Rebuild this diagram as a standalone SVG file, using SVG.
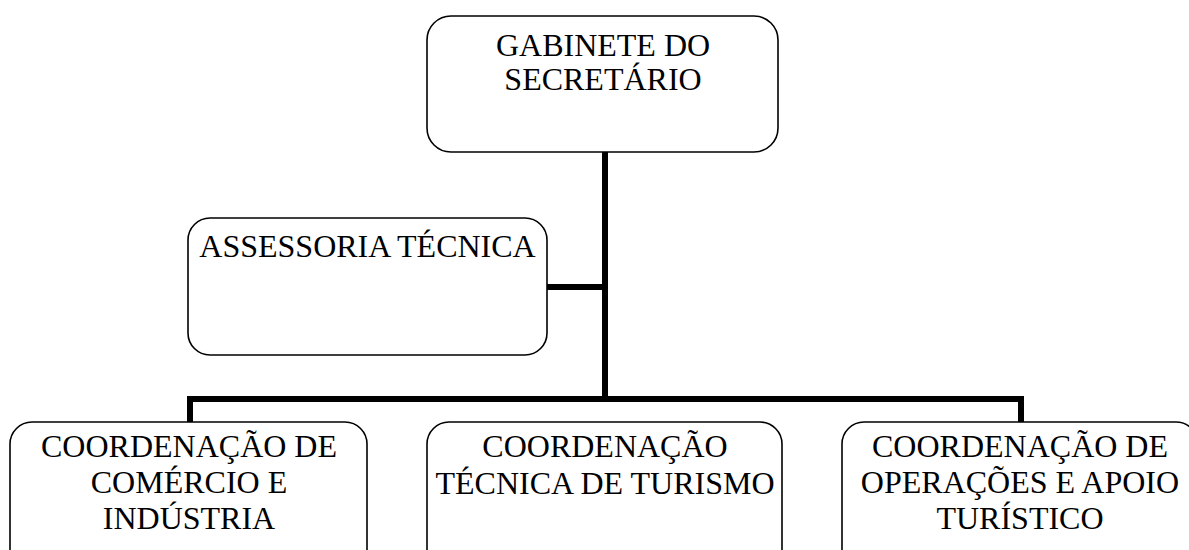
<svg xmlns="http://www.w3.org/2000/svg" width="1189" height="550" viewBox="0 0 1189 550">
<style>
.box{fill:#fff;stroke:#000;stroke-width:1.6}
.t{font-family:"Liberation Serif","Times New Roman",serif;font-size:32px;fill:#000;text-anchor:middle}
.c{stroke:#000;stroke-width:6;fill:none;stroke-linecap:butt}
</style>
<rect width="1189" height="550" fill="#fff"/>
<g id="connectors">
<path class="c" d="M605 152 V399"/>
<path class="c" d="M547 287 H605"/>
<path class="c" d="M187 399 H1024"/>
<path class="c" d="M190 399 V422"/>
<path class="c" d="M1021 399 V422"/>
</g>
<g id="gabinete">
<rect class="box" x="427" y="16" width="351" height="136" rx="24"/>
<text class="t" x="603" y="56">GABINETE DO</text>
<text class="t" x="603" y="90">SECRETÁRIO</text>
</g>
<g id="assessoria">
<rect class="box" x="188" y="218" width="359" height="137" rx="22"/>
<text class="t" x="367.5" y="257">ASSESSORIA TÉCNICA</text>
</g>
<g id="coord-comercio">
<rect class="box" x="10" y="422" width="357" height="150" rx="22"/>
<text class="t" x="189" y="457">COORDENAÇÃO DE</text>
<text class="t" x="189" y="493">COMÉRCIO E</text>
<text class="t" x="189" y="529">INDÚSTRIA</text>
</g>
<g id="coord-turismo">
<rect class="box" x="427" y="422" width="355" height="150" rx="22"/>
<text class="t" x="605" y="457">COORDENAÇÃO</text>
<text class="t" x="605" y="494">TÉCNICA DE TURISMO</text>
</g>
<g id="coord-operacoes">
<rect class="box" x="842" y="422" width="356" height="150" rx="22"/>
<text class="t" x="1020" y="457">COORDENAÇÃO DE</text>
<text class="t" x="1020" y="493">OPERAÇÕES E APOIO</text>
<text class="t" x="1020" y="529">TURÍSTICO</text>
</g>
</svg>
